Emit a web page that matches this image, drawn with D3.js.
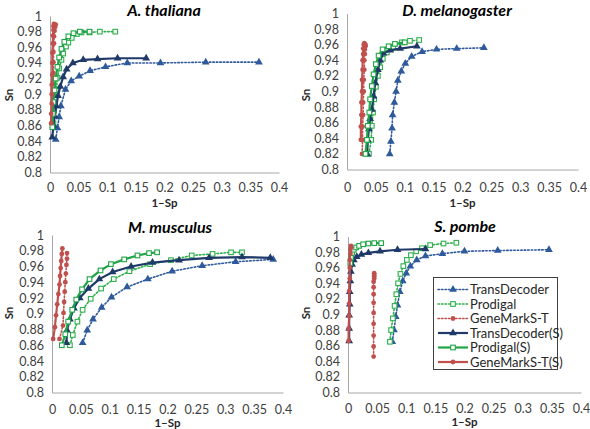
<!DOCTYPE html>
<html><head><meta charset="utf-8">
<script src="https://cdn.jsdelivr.net/npm/d3@7"></script>
<style>body{margin:0;background:#fff;} svg text{font-family:Lato,'Open Sans',sans-serif;}</style>
</head><body>
<svg id="c" width="590" height="429"></svg>
<script>
// ---------- labels ----------
const panelTitles = ["A. thaliana", "D. melanogaster", "M. musculus", "S. pombe"];
const seriesNames = ["TransDecoder", "Prodigal", "GeneMarkS-T", "TransDecoder(S)", "Prodigal(S)", "GeneMarkS-T(S)"];
const yTickLabels = ["0.8","0.82","0.84","0.86","0.88","0.9","0.92","0.94","0.96","0.98","1"];
const xTickLabels = ["0","0.05","0.1","0.15","0.2","0.25","0.3","0.35","0.4"];
const xAxisTitle = "1\u2013Sp";
const yAxisTitle = "Sn";

// ---------- A. thaliana ----------
const athTdX  = [0.010,0.013,0.016,0.019,0.027,0.037,0.051,0.070,0.097,0.135,0.193,0.272,0.365];
const athTdY  = [0.842,0.857,0.871,0.885,0.906,0.917,0.923,0.930,0.935,0.940,0.940,0.941,0.941];
const athPrX  = [0.006,0.007,0.009,0.011,0.013,0.016,0.020,0.023,0.028,0.032,0.038,0.047,0.055,0.069,0.087,0.114];
const athPrY  = [0.863,0.878,0.893,0.906,0.921,0.933,0.944,0.952,0.961,0.966,0.972,0.977,0.979,0.979,0.980,0.980];
const athGmX  = [0.004,0.004,0.005,0.005,0.005,0.006,0.006,0.006,0.007,0.007,0.008,0.009,0.010];
const athGmY  = [0.862,0.875,0.888,0.900,0.913,0.927,0.941,0.954,0.965,0.974,0.981,0.986,0.989];
const athTdsX = [0.004,0.006,0.008,0.011,0.014,0.018,0.023,0.029,0.040,0.058,0.083,0.118,0.168];
const athTdsY = [0.845,0.860,0.872,0.885,0.898,0.910,0.922,0.932,0.940,0.944,0.945,0.946,0.946];
const athPrsX = [0.004,0.005,0.006,0.008,0.010,0.013,0.016,0.020,0.025,0.032,0.041,0.052,0.069];
const athPrsY = [0.858,0.875,0.890,0.905,0.920,0.935,0.947,0.958,0.967,0.974,0.978,0.980,0.980];
const athGmsX = [0.002,0.002,0.003,0.003,0.003,0.004,0.004,0.004,0.005,0.005,0.006,0.006,0.007];
const athGmsY = [0.863,0.875,0.888,0.900,0.912,0.925,0.940,0.953,0.965,0.975,0.982,0.987,0.990];

// ---------- D. melanogaster ----------
const dmeTdX  = [0.074,0.076,0.078,0.079,0.082,0.085,0.088,0.094,0.101,0.112,0.130,0.155,0.190,0.237];
const dmeTdY  = [0.820,0.836,0.853,0.870,0.886,0.900,0.914,0.926,0.936,0.945,0.951,0.954,0.955,0.956];
const dmePrX  = [0.038,0.042,0.043,0.045,0.047,0.050,0.0535,0.0575,0.062,0.069,0.080,0.095,0.109,0.125];
const dmePrY  = [0.820,0.838,0.856,0.873,0.890,0.906,0.920,0.931,0.942,0.950,0.956,0.963,0.965,0.966];
const dmeGmX  = [0.026,0.027,0.027,0.028,0.028,0.029,0.029,0.030,0.030,0.031,0.031,0.032,0.032];
const dmeGmY  = [0.820,0.838,0.855,0.870,0.886,0.900,0.915,0.928,0.940,0.948,0.954,0.958,0.960];
const dmeTdsX = [0.035,0.036,0.038,0.040,0.043,0.046,0.049,0.0535,0.0575,0.063,0.075,0.092,0.121];
const dmeTdsY = [0.820,0.838,0.852,0.865,0.877,0.894,0.911,0.928,0.940,0.949,0.953,0.955,0.958];
const dmePrsX = [0.032,0.0345,0.036,0.0386,0.040,0.043,0.046,0.050,0.0547,0.0616,0.072,0.083,0.100];
const dmePrsY = [0.820,0.838,0.856,0.873,0.890,0.907,0.922,0.935,0.946,0.954,0.958,0.961,0.963];
const dmeGmsX = [0.024,0.024,0.025,0.025,0.026,0.026,0.027,0.027,0.028,0.028,0.029,0.030];
const dmeGmsY = [0.838,0.855,0.870,0.886,0.900,0.915,0.928,0.940,0.948,0.955,0.960,0.962];

// ---------- M. musculus ----------
const mmuTdX  = [0.053,0.061,0.071,0.086,0.103,0.130,0.166,0.208,0.260,0.318,0.383];
const mmuTdY  = [0.863,0.879,0.893,0.908,0.921,0.934,0.944,0.954,0.961,0.966,0.969];
const mmuPrX  = [0.031,0.036,0.044,0.053,0.067,0.085,0.107,0.134,0.170,0.206,0.242,0.278,0.310,0.329];
const mmuPrY  = [0.860,0.873,0.890,0.905,0.919,0.932,0.944,0.954,0.963,0.968,0.974,0.976,0.978,0.978];
const mmuGmX  = [0.013,0.019,0.020,0.021,0.022,0.023,0.024,0.025,0.026,0.026];
const mmuGmY  = [0.868,0.885,0.901,0.915,0.928,0.940,0.951,0.962,0.970,0.977];
const mmuTdsX = [0.025,0.026,0.031,0.038,0.048,0.063,0.082,0.105,0.137,0.174,0.220,0.272,0.329,0.378];
const mmuTdsY = [0.863,0.879,0.893,0.907,0.920,0.932,0.944,0.953,0.960,0.965,0.968,0.971,0.972,0.971];
const mmuPrsX = [0.017,0.023,0.028,0.035,0.042,0.052,0.065,0.084,0.102,0.125,0.148,0.168,0.182];
const mmuPrsY = [0.860,0.874,0.890,0.905,0.918,0.931,0.944,0.955,0.963,0.969,0.974,0.977,0.978];
const mmuGmsX = [0.002,0.005,0.007,0.009,0.011,0.013,0.014,0.015,0.016,0.017,0.018];
const mmuGmsY = [0.868,0.883,0.898,0.912,0.925,0.937,0.948,0.958,0.967,0.976,0.983];

// ---------- S. pombe ----------
const spoTdX  = [0.076,0.079,0.082,0.085,0.089,0.094,0.100,0.107,0.118,0.133,0.162,0.200,0.257,0.345];
const spoTdY  = [0.865,0.880,0.897,0.912,0.929,0.943,0.953,0.962,0.970,0.975,0.978,0.981,0.982,0.983];
const spoPrX  = [0.072,0.074,0.077,0.080,0.083,0.086,0.090,0.095,0.101,0.108,0.117,0.127,0.141,0.164,0.186];
const spoPrY  = [0.865,0.880,0.895,0.911,0.926,0.940,0.952,0.962,0.970,0.976,0.981,0.985,0.989,0.991,0.992];
const spoGmX  = [0.044,0.044,0.044,0.044,0.044,0.044,0.044,0.044,0.044,0.045,0.045,0.045,0.045];
const spoGmY  = [0.846,0.859,0.873,0.888,0.902,0.915,0.926,0.935,0.942,0.946,0.949,0.951,0.953];
const spoTdsX = [0.002,0.002,0.002,0.003,0.003,0.004,0.005,0.007,0.010,0.015,0.023,0.035,0.055,0.085,0.133];
const spoTdsY = [0.866,0.882,0.899,0.913,0.929,0.943,0.955,0.964,0.970,0.974,0.977,0.979,0.981,0.983,0.984];
const spoPrsX = [0.004,0.005,0.007,0.010,0.014,0.019,0.026,0.035,0.045,0.057];
const spoPrsY = [0.966,0.973,0.979,0.983,0.986,0.988,0.990,0.991,0.9915,0.9915];
const spoGmsX = [0.001,0.001,0.002,0.002,0.002,0.003,0.003,0.003,0.004,0.004,0.005,0.005];
const spoGmsY = [0.866,0.882,0.898,0.914,0.930,0.946,0.960,0.970,0.978,0.983,0.986,0.988];

// ---------- assemble ----------
const panelData = [
  [[athTdX,athTdY],[athPrX,athPrY],[athGmX,athGmY],[athTdsX,athTdsY],[athPrsX,athPrsY],[athGmsX,athGmsY]],
  [[dmeTdX,dmeTdY],[dmePrX,dmePrY],[dmeGmX,dmeGmY],[dmeTdsX,dmeTdsY],[dmePrsX,dmePrsY],[dmeGmsX,dmeGmsY]],
  [[mmuTdX,mmuTdY],[mmuPrX,mmuPrY],[mmuGmX,mmuGmY],[mmuTdsX,mmuTdsY],[mmuPrsX,mmuPrsY],[mmuGmsX,mmuGmsY]],
  [[spoTdX,spoTdY],[spoPrX,spoPrY],[spoGmX,spoGmY],[spoTdsX,spoTdsY],[spoPrsX,spoPrsY],[spoGmsX,spoGmsY]]
];

// layout (pixels) per panel
const layout = [
  {x0:50,  x1:279, yTop:16,    yBot:172.5, titleX:164, titleY:15.5, tickY:192,   axTitleY:207, snX:9,   snY:95},
  {x0:347, x1:578, yTop:13.5,  yBot:169.5, titleX:457, titleY:15.5, tickY:191.5, axTitleY:207, snX:306, snY:95},
  {x0:52,  x1:283, yTop:235,   yBot:392.5, titleX:170, titleY:233,  tickY:413.5, axTitleY:427, snX:9,   snY:313},
  {x0:348, x1:581, yTop:236.5, yBot:392.5, titleX:465, titleY:232,  tickY:413,   axTitleY:426, snX:306, snY:313}
];

const styles = [
  {color:"#2E5A9C", dash:"1.5,2", width:1.6, marker:"tri"},
  {color:"#2DB04B", dash:"1.5,2", width:1.6, marker:"sq"},
  {color:"#C0504D", dash:"1.5,2", width:1.6, marker:"dot"},
  {color:"#1F3A68", dash:null,    width:2.2, marker:"tri"},
  {color:"#1FA446", dash:null,    width:2.2, marker:"sq"},
  {color:"#C0504D", dash:null,    width:2.2, marker:"dot"}
];

const svg = d3.select("#c");
const yTicks = yTickLabels.map(Number);
const xTicks = xTickLabels.map(Number);
const tickColor = "#404040";

function drawMarker(g, type, color, x, y) {
  if (type === "tri") {
    g.append("path").attr("d", d3.symbol(d3.symbolTriangle, 26)()).attr("transform", `translate(${x},${y})`)
      .attr("fill", color);
  } else if (type === "sq") {
    g.append("rect").attr("x", x-2.3).attr("y", y-2.3).attr("width", 4.6).attr("height", 4.6)
      .attr("fill", "#fff").attr("stroke", color).attr("stroke-width", 1.1);
  } else {
    g.append("circle").attr("cx", x).attr("cy", y).attr("r", 2.4).attr("fill", color);
  }
}

layout.forEach((L, pi) => {
  const xs = d3.scaleLinear().domain([0, 0.4]).range([L.x0, L.x1]);
  const ys = d3.scaleLinear().domain([0.8, 1]).range([L.yBot, L.yTop]);
  const g = svg.append("g");

  // y axis
  const ya = g.append("g").attr("transform", `translate(${L.x0},0)`)
    .call(d3.axisLeft(ys).tickValues(yTicks).tickSize(0).tickPadding(8).tickFormat((d,i)=>yTickLabels[i]));
  ya.select(".domain").attr("stroke", "#A6A6A6").attr("stroke-width", 1);
  ya.selectAll("text").attr("fill", tickColor).style("font-size", "12.5px").style("font-family", "Lato");

  // x axis
  const xa = g.append("g").attr("transform", `translate(0,${L.yBot})`)
    .call(d3.axisBottom(xs).tickValues(xTicks).tickSize(0).tickPadding(0).tickFormat((d,i)=>xTickLabels[i]));
  xa.select(".domain").attr("stroke", "#A6A6A6").attr("stroke-width", 1);
  xa.selectAll("text").attr("fill", tickColor).style("font-size", "12.5px").style("font-family", "Lato")
    .attr("dy", null).attr("y", L.tickY - L.yBot);

  // titles
  g.append("text").attr("x", L.titleX).attr("y", L.titleY).attr("text-anchor", "middle")
    .style("font-size", "16px").style("font-weight", "bold").style("font-style", "italic")
    .attr("fill", "#000").text(panelTitles[pi]);
  g.append("text").attr("x", (L.x0 + L.x1) / 2).attr("y", L.axTitleY).attr("text-anchor", "middle")
    .style("font-size", "11.5px").style("font-weight", "bold").attr("fill", "#262626").text(xAxisTitle);
  g.append("text").attr("transform", `translate(${L.snX + 4},${L.snY}) rotate(-90)`).attr("text-anchor", "middle")
    .style("font-size", "11.5px").style("font-weight", "bold").attr("fill", "#262626").text(yAxisTitle);

  // series
  panelData[pi].forEach((s, si) => {
    const st = styles[si];
    const pts = s[0].map((x, k) => [x, s[1][k]]);
    const line = d3.line().x(d => xs(d[0])).y(d => ys(d[1]));
    const sg = g.append("g");
    sg.append("path").attr("d", line(pts)).attr("fill", "none").attr("stroke", st.color)
      .attr("stroke-width", st.width).attr("stroke-dasharray", st.dash).attr("stroke-linecap", st.dash ? "round" : "butt");
    pts.forEach(p => drawMarker(sg, st.marker, st.color, xs(p[0]), ys(p[1])));
  });
});

// legend
const leg = svg.append("g");
leg.append("rect").attr("x", 433.5).attr("y", 277.5).attr("width", 124).attr("height", 92)
  .attr("fill", "#fff").attr("stroke", "#404040").attr("stroke-width", 1);
const legRowY = d3.scaleLinear().domain([0, 5]).range([289.5, 362]);
seriesNames.forEach((n, i) => {
  const st = styles[i];
  const y = legRowY(i);
  leg.append("line").attr("x1", 438).attr("x2", 468).attr("y1", y).attr("y2", y)
    .attr("stroke", st.color).attr("stroke-width", st.width).attr("stroke-dasharray", st.dash)
    .attr("stroke-linecap", st.dash ? "round" : "butt");
  drawMarker(leg, st.marker, st.color, 453, y);
  leg.append("text").attr("x", 470).attr("y", y + 4.5).style("font-size", "13px")
    .attr("fill", "#262626").text(n);
});
</script>
</body></html>
